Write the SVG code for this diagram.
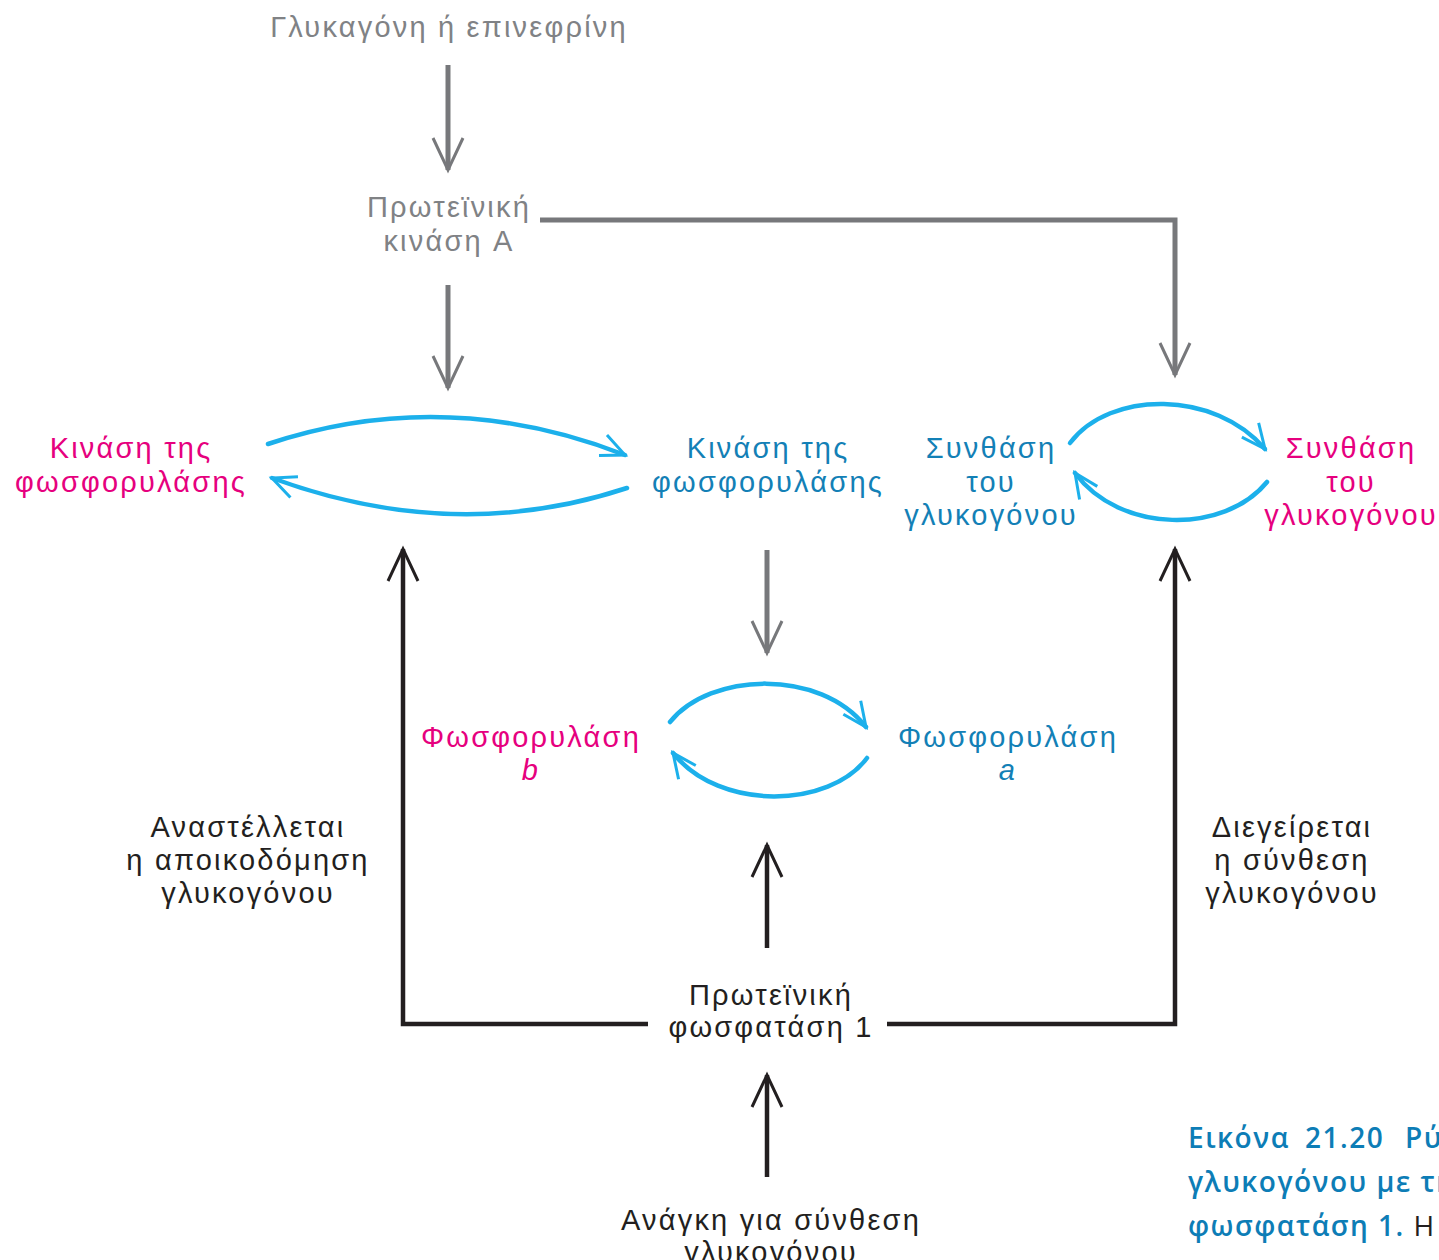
<svg xmlns="http://www.w3.org/2000/svg" width="1439" height="1260" viewBox="0 0 1439 1260">
<style>
text{font-family:"Liberation Sans","Noto Sans",sans-serif;font-size:29px;letter-spacing:2.2px;text-anchor:middle}
.g{fill:#808285}.p{fill:#e6007e}.b{fill:#1380b6}.k{fill:#231f20}
.cap{font-family:"Open Sans","Noto Sans",sans-serif;font-weight:600;fill:#0d7db6;text-anchor:start;font-size:28px;letter-spacing:1.5px}
.ga{stroke:#77787b;stroke-width:5;fill:none}
.ka{stroke:#231f20;stroke-width:4.5;fill:none}
.ca{stroke:#1cb0eb;stroke-width:4.5;fill:none;stroke-linecap:round}
</style>
<defs>
<marker id="mg" markerUnits="userSpaceOnUse" viewBox="-40 -20 44 40" refX="0" refY="0" markerWidth="44" markerHeight="40" orient="auto">
<path d="M-32 -15 L0 0 L-32 15" fill="none" stroke="#77787b" stroke-width="3"/>
</marker>
<marker id="mk" markerUnits="userSpaceOnUse" viewBox="-40 -20 44 40" refX="0" refY="0" markerWidth="44" markerHeight="40" orient="auto">
<path d="M-32 -15 L0 0 L-32 15" fill="none" stroke="#231f20" stroke-width="3"/>
</marker>
<marker id="mc" markerUnits="userSpaceOnUse" viewBox="-30 -16 34 32" refX="0" refY="0" markerWidth="34" markerHeight="32" orient="auto">
<path d="M-24 -12 L0 0 L-24 10" fill="none" stroke="#1cb0eb" stroke-width="3"/>
</marker>
</defs>

<g id="connectors">
<path class="ga" d="M448 65 V170" marker-end="url(#mg)"/>
<path class="ga" d="M448 285 V388" marker-end="url(#mg)"/>
<path class="ga" d="M540 220 H1175 V375" marker-end="url(#mg)"/>
<path class="ga" d="M767 550 V653" marker-end="url(#mg)"/>
<path class="ca" d="M268 444 Q445 385 625 455" marker-end="url(#mc)"/>
<path class="ca" d="M627 488 Q455 545 272 478" marker-end="url(#mc)"/>
<path class="ca" d="M1070 443 C1110 390 1215 390 1265 449" marker-end="url(#mc)"/>
<path class="ca" d="M1267 482 C1225 534 1120 534 1075 473" marker-end="url(#mc)"/>
<path class="ca" d="M670 722 C710 672 820 668 866 727" marker-end="url(#mc)"/>
<path class="ca" d="M867 758 C830 808 720 812 673 753" marker-end="url(#mc)"/>
<path class="ka" d="M767 948 V845" marker-end="url(#mk)"/>
<path class="ka" d="M767 1177 V1075" marker-end="url(#mk)"/>
<path class="ka" d="M648 1024 H403 V549" marker-end="url(#mk)"/>
<path class="ka" d="M887 1024 H1175 V549" marker-end="url(#mk)"/>
</g>

<g id="glucagon"><text class="g" x="449" y="37">Γλυκαγόνη ή επινεφρίνη</text></g>
<g id="pka"><text class="g" x="449" y="217">Πρωτεϊνική</text><text class="g" x="449" y="251">κινάση A</text></g>
<g id="phk-inactive"><text class="p" x="131" y="458">Κινάση της</text><text class="p" x="131" y="492">φωσφορυλάσης</text></g>
<g id="phk-active"><text class="b" x="768" y="458">Κινάση της</text><text class="b" x="768" y="492">φωσφορυλάσης</text></g>
<g id="gs-active"><text class="b" x="991" y="458">Συνθάση</text><text class="b" x="991" y="492">του</text><text class="b" x="991" y="525">γλυκογόνου</text></g>
<g id="gs-inactive"><text class="p" x="1351" y="458">Συνθάση</text><text class="p" x="1351" y="492">του</text><text class="p" x="1351" y="525">γλυκογόνου</text></g>
<g id="phos-b"><text class="p" x="531" y="747">Φωσφορυλάση</text><text class="p" x="531" y="780" font-style="italic">b</text></g>
<g id="phos-a"><text class="b" x="1008" y="747">Φωσφορυλάση</text><text class="b" x="1008" y="780" font-style="italic">a</text></g>
<g id="inhibit"><text class="k" x="248" y="837">Αναστέλλεται</text><text class="k" x="248" y="870">η αποικοδόμηση</text><text class="k" x="248" y="903">γλυκογόνου</text></g>
<g id="stimulate"><text class="k" x="1292" y="837">Διεγείρεται</text><text class="k" x="1292" y="870">η σύνθεση</text><text class="k" x="1292" y="903">γλυκογόνου</text></g>
<g id="pp1"><text class="k" x="771" y="1005">Πρωτεϊνική</text><text class="k" x="771" y="1037">φωσφατάση 1</text></g>
<g id="need"><text class="k" x="771" y="1230">Ανάγκη για σύνθεση</text><text class="k" x="771" y="1262">γλυκογόνου</text></g>
<g id="caption">
<text class="cap" y="1148"><tspan x="1188">Εικόνα</tspan><tspan x="1305">21.20</tspan><tspan x="1405">Ρύ</tspan></text>
<text class="cap" x="1188" y="1192">γλυκογόνου με τη</text>
<text class="cap" x="1188" y="1236">φωσφατάση 1.<tspan font-weight="normal" fill="#231f20"> Η</tspan></text>
</g>
</svg>
